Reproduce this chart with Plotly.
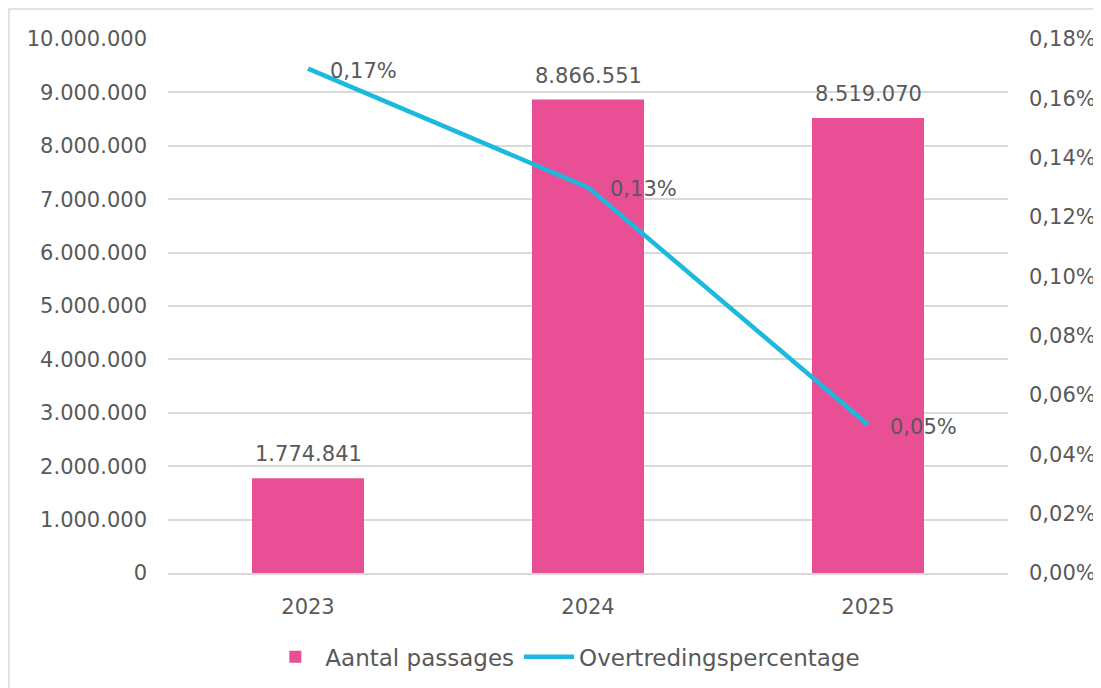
import plotly.graph_objects as go

# data
years = ["2023", "2024", "2025"]
passages = [1774841, 8866551, 8519070]
overtreding_pct = [0.0017, 0.0013, 0.0005]

pink = "#E94F94"
cyan = "#1BB9DD"
text_grey = "#595959"
grid_grey = "#D9D9D9"
font_name = "DejaVu Sans"

fig = go.Figure()

fig.add_trace(go.Bar(
    x=years,
    y=passages,
    name="Aantal passages",
    marker=dict(color=pink, line=dict(width=0)),
    width=0.4,
))

fig.add_trace(go.Scatter(
    x=years,
    y=overtreding_pct,
    name="Overtredingspercentage",
    yaxis="y2",
    mode="lines",
    line=dict(color=cyan, width=4.5),
    cliponaxis=False,
))

# value labels above the bars (category index, since "2023" would be read as a number)
for i, val in enumerate(passages):
    fig.add_annotation(
        x=i, y=val, xref="x", yref="y",
        text=f"{val:,}".replace(",", "."),
        showarrow=False, yanchor="middle", yshift=24,
        font=dict(size=21, color=text_grey, family=font_name),
    )

# percentage labels right of the line points
for i, pct in enumerate(overtreding_pct):
    fig.add_annotation(
        x=i, y=pct, xref="x", yref="y2",
        text=f"{pct * 100:.2f}%".replace(".", ","),
        showarrow=False, xanchor="left", yanchor="middle",
        xshift=20, yshift=-2,
        font=dict(size=21, color=text_grey, family=font_name),
    )

# light frame around the chart (only top/left edges visible in the window)
fig.add_shape(
    type="rect", xref="paper", yref="paper",
    x0=(1 - 160) / 840, x1=1.3, y0=-0.4, y1=(565 - 1) / 534,
    line=dict(color="#D9D9D9", width=1.5), fillcolor="rgba(0,0,0,0)",
    layer="below",
)

fig.update_layout(
    width=1101,
    height=688,
    separators=",.",
    font=dict(family=font_name, size=21, color=text_grey),
    plot_bgcolor="white",
    paper_bgcolor="white",
    margin=dict(l=160, r=101, t=31, b=123),
    showlegend=True,
    legend=dict(
        orientation="h",
        x=0.473, xanchor="center",
        y=-0.157, yanchor="middle",
        font=dict(size=23, color=text_grey, family=font_name),
        traceorder="normal",
        itemwidth=50,
    ),
    xaxis=dict(
        type="category",
        range=[-0.5, len(years) - 0.5],
        showgrid=False,
        showline=True,
        linecolor=grid_grey,
        linewidth=2,
        ticks="",
        ticklabelstandoff=14,
        tickfont=dict(size=21, color=text_grey),
    ),
    yaxis=dict(
        range=[0, 10000000],
        dtick=1000000,
        tickformat=",d",
        showgrid=True,
        gridcolor=grid_grey,
        gridwidth=1.5,
        zeroline=False,
        ticks="",
        ticklabelstandoff=20,
        tickfont=dict(size=21, color=text_grey),
    ),
    yaxis2=dict(
        overlaying="y",
        side="right",
        range=[0, 0.0018],
        dtick=0.0002,
        tickformat=".2%",
        showgrid=False,
        zeroline=False,
        ticks="",
        ticklabelstandoff=20,
        tickfont=dict(size=21, color=text_grey),
    ),
)

fig.write_html("out.html")
